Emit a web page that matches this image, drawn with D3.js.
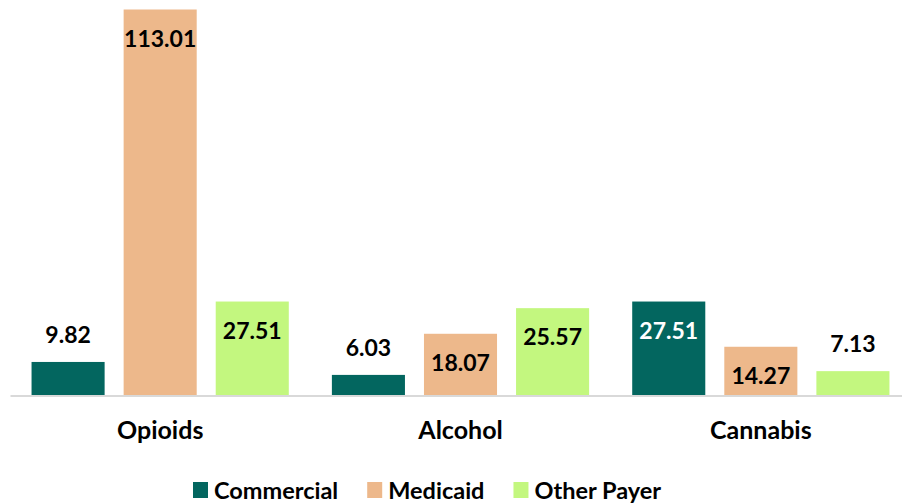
<!DOCTYPE html>
<html>
<head>
<meta charset="utf-8">
<script src="https://cdn.jsdelivr.net/npm/d3@7"></script>
<style>
  body { margin: 0; background: #fff; }
  svg text { font-family: Lato, "Open Sans", sans-serif; font-weight: bold; }
</style>
</head>
<body>
<svg id="chart" width="902" height="504"></svg>
<script>
// data
var categories = ["Opioids", "Alcohol", "Cannabis"];
var series = ["Commercial", "Medicaid", "Other Payer"];
var commercial = [9.82, 6.03, 27.51];
var medicaid = [113.01, 18.07, 14.27];
var otherPayer = [27.51, 25.57, 7.13];
var seriesValues = [commercial, medicaid, otherPayer];

var colours = ["#03665f", "#edb88b", "#c3f77f"];
var labelColours = ["#fff", "#000", "#000"];

var svg = d3.select("#chart");

var baseline = 395.5;
var plotTop = 9.5;

var x0 = d3.scaleBand().domain(categories).range([10, 911]).padding(0);
var x1 = d3.scaleBand().domain(series).range([0, x0.bandwidth()])
    .paddingInner(0.2065).paddingOuter(0.234);
var y = d3.scaleLinear().domain([0, 113.01]).range([baseline, plotTop]);

// flatten to one record per bar
var bars = [];
categories.forEach(function(c, i) {
    series.forEach(function(s, j) {
        bars.push({ cat: c, ser: s, idx: j, value: seriesValues[j][i] });
    });
});

var g = svg.append("g");

g.selectAll("rect.bar")
    .data(bars).enter()
    .append("rect")
    .attr("class", "bar")
    .attr("x", function(d) { return x0(d.cat) + x1(d.ser); })
    .attr("y", function(d) { return y(d.value); })
    .attr("width", x1.bandwidth())
    .attr("height", function(d) { return baseline - y(d.value); })
    .attr("fill", function(d) { return colours[d.idx]; });

// axis line
var xAxis = d3.axisBottom(x0).tickSize(0).tickPadding(26);
var axisG = svg.append("g")
    .attr("transform", "translate(0," + baseline + ")")
    .call(xAxis);
axisG.select(".domain").attr("stroke", "#d9d9d9").attr("stroke-width", 2);
axisG.selectAll("text")
    .attr("fill", "#000")
    .style("font-size", "25px")
    .style("font-family", "Lato, sans-serif")
    .style("font-weight", "bold");

// value labels: inside the bar top if it is tall enough, otherwise above
function isInside(d) { return baseline - y(d.value) > 42; }

g.selectAll("text.val")
    .data(bars).enter()
    .append("text")
    .attr("class", "val")
    .attr("text-anchor", "middle")
    .style("font-size", "23px")
    .attr("x", function(d) { return x0(d.cat) + x1(d.ser) + x1.bandwidth() / 2; })
    .attr("y", function(d) {
        return isInside(d) ? y(d.value) + 37 : y(d.value) - 19;
    })
    .attr("fill", function(d) {
        return isInside(d) ? labelColours[d.idx] : "#000";
    })
    .text(function(d) { return d.value.toFixed(2); });

// legend
var legend = svg.append("g").attr("transform", "translate(193,482)");
var lx = 0;
series.forEach(function(s, i) {
    var item = legend.append("g").attr("transform", "translate(" + lx + ",0)");
    item.append("rect")
        .attr("width", 15).attr("height", 16)
        .attr("fill", colours[i]);
    var t = item.append("text")
        .attr("x", 21).attr("y", 16.5)
        .style("font-size", "23.5px")
        .attr("fill", "#000")
        .text(s);
    lx += 21 + t.node().getComputedTextLength() + 29;
});
</script>
</body>
</html>
